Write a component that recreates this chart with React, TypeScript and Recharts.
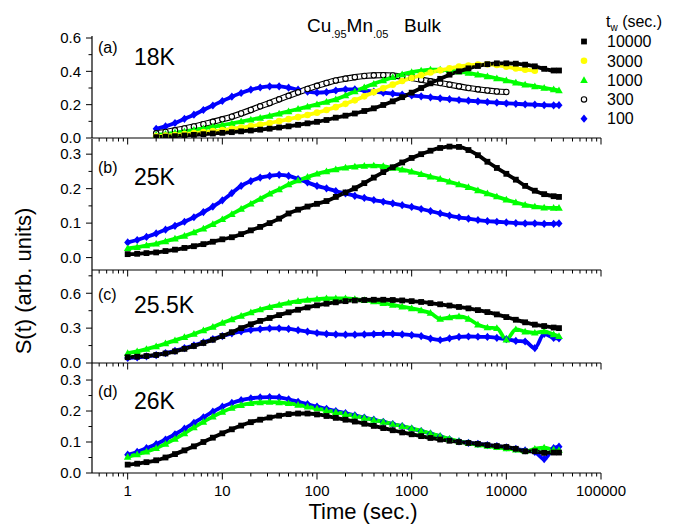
import React from "react";
import { LineChart, Line, XAxis, YAxis } from "recharts";

// time grid (sec.), roughly 0.1 decade apart
const times = [1, 1.26, 1.58, 2, 2.51, 3.16, 3.98, 5.01, 6.31, 7.94, 10, 12.6, 15.8, 20, 25.1, 31.6, 39.8, 50.1, 63.1, 79.4, 100, 126, 158, 200, 251, 316, 398, 501, 631, 794, 1000, 1260, 1580, 2000, 2510, 3160, 3980, 5010, 6310, 7940, 10000, 12600, 15800, 20000, 25100, 31600, 36000];

// (a) 18K
const a10000 = [null, null, null, 0.005, 0.008, 0.011, 0.015, 0.019, 0.023, 0.027, 0.031, 0.035, 0.04, 0.045, 0.05, 0.056, 0.063, 0.07, 0.079, 0.088, 0.097, 0.108, 0.122, 0.134, 0.147, 0.162, 0.178, 0.198, 0.22, 0.245, 0.272, 0.3, 0.328, 0.355, 0.38, 0.4, 0.418, 0.432, 0.443, 0.448, 0.448, 0.446, 0.44, 0.43, 0.415, 0.405, 0.405];
const a3000 = [null, null, null, 0.01, 0.014, 0.018, 0.023, 0.029, 0.035, 0.041, 0.048, 0.055, 0.062, 0.071, 0.08, 0.09, 0.101, 0.113, 0.125, 0.138, 0.152, 0.168, 0.185, 0.205, 0.226, 0.25, 0.275, 0.298, 0.32, 0.342, 0.36, 0.377, 0.393, 0.406, 0.418, 0.428, 0.435, 0.44, 0.442, 0.438, 0.428, 0.417, 0.41, 0.404, null, null, null];
const a1000 = [null, null, null, 0.018, 0.024, 0.032, 0.04, 0.049, 0.058, 0.067, 0.077, 0.088, 0.099, 0.11, 0.121, 0.133, 0.146, 0.16, 0.174, 0.188, 0.202, 0.217, 0.232, 0.255, 0.28, 0.303, 0.325, 0.345, 0.365, 0.382, 0.395, 0.404, 0.41, 0.41, 0.405, 0.398, 0.39, 0.38, 0.37, 0.358, 0.345, 0.332, 0.32, 0.31, 0.3, 0.292, 0.285];
const a300 = [null, null, null, 0.028, 0.036, 0.046, 0.057, 0.069, 0.083, 0.097, 0.112, 0.128, 0.147, 0.168, 0.19, 0.21, 0.232, 0.253, 0.274, 0.294, 0.313, 0.33, 0.345, 0.356, 0.365, 0.372, 0.376, 0.377, 0.375, 0.368, 0.36, 0.35, 0.34, 0.33, 0.32, 0.31, 0.3, 0.292, 0.285, 0.279, 0.276, null, null, null, null, null, null];
const a100 = [null, null, null, 0.055, 0.07, 0.09, 0.115, 0.14, 0.168, 0.195, 0.222, 0.248, 0.27, 0.29, 0.303, 0.31, 0.31, 0.302, 0.29, 0.278, 0.272, 0.275, 0.285, 0.292, 0.292, 0.285, 0.278, 0.272, 0.266, 0.26, 0.255, 0.25, 0.244, 0.238, 0.233, 0.228, 0.224, 0.22, 0.216, 0.212, 0.208, 0.205, 0.202, 0.2, 0.197, 0.196, 0.197];

// (b) 25K
const b10000 = [0.01, 0.011, 0.013, 0.015, 0.019, 0.023, 0.028, 0.033, 0.039, 0.046, 0.053, 0.059, 0.068, 0.079, 0.089, 0.1, 0.113, 0.128, 0.139, 0.148, 0.156, 0.164, 0.176, 0.189, 0.201, 0.216, 0.232, 0.248, 0.262, 0.276, 0.289, 0.3, 0.31, 0.318, 0.322, 0.321, 0.312, 0.297, 0.278, 0.26, 0.243, 0.226, 0.208, 0.194, 0.184, 0.178, 0.176];
const b1000 = [0.027, 0.03, 0.035, 0.04, 0.047, 0.055, 0.063, 0.073, 0.084, 0.097, 0.111, 0.126, 0.141, 0.156, 0.17, 0.185, 0.198, 0.212, 0.224, 0.234, 0.243, 0.25, 0.256, 0.261, 0.264, 0.266, 0.267, 0.265, 0.26, 0.255, 0.249, 0.242, 0.235, 0.228, 0.22, 0.212, 0.204, 0.195, 0.186, 0.177, 0.168, 0.16, 0.153, 0.148, 0.145, 0.144, 0.144];
const b100 = [0.044, 0.051, 0.06, 0.07, 0.081, 0.092, 0.104, 0.117, 0.132, 0.148, 0.166, 0.187, 0.208, 0.222, 0.232, 0.237, 0.24, 0.237, 0.228, 0.218, 0.208, 0.201, 0.193, 0.186, 0.179, 0.173, 0.167, 0.162, 0.157, 0.152, 0.147, 0.141, 0.135, 0.128, 0.122, 0.117, 0.113, 0.109, 0.106, 0.104, 0.102, 0.1, 0.099, 0.099, 0.098, 0.098, 0.099];

// (c) 25.5K
const c10000 = [0.05, 0.054, 0.06, 0.069, 0.082, 0.1, 0.122, 0.146, 0.172, 0.2, 0.232, 0.265, 0.3, 0.333, 0.362, 0.387, 0.412, 0.436, 0.458, 0.478, 0.496, 0.51, 0.522, 0.532, 0.538, 0.542, 0.544, 0.544, 0.542, 0.538, 0.532, 0.525, 0.515, 0.505, 0.494, 0.482, 0.47, 0.455, 0.438, 0.418, 0.395, 0.372, 0.35, 0.33, 0.318, 0.305, 0.3];
const c1000 = [0.085, 0.1, 0.12, 0.143, 0.168, 0.195, 0.222, 0.25, 0.28, 0.31, 0.345, 0.375, 0.405, 0.435, 0.46, 0.48, 0.5, 0.518, 0.532, 0.542, 0.55, 0.555, 0.556, 0.555, 0.55, 0.54, 0.53, 0.515, 0.5, 0.485, 0.47, 0.452, 0.43, 0.38, 0.392, 0.4, 0.38, 0.33, 0.305, 0.3, 0.2, 0.29, 0.27, 0.26, 0.272, 0.245, 0.23];
const c100 = [0.043, 0.048, 0.057, 0.068, 0.085, 0.105, 0.128, 0.152, 0.178, 0.205, 0.232, 0.255, 0.272, 0.284, 0.292, 0.297, 0.298, 0.293, 0.282, 0.27, 0.258, 0.25, 0.246, 0.244, 0.244, 0.246, 0.249, 0.251, 0.25, 0.246, 0.24, 0.232, 0.21, 0.198, 0.212, 0.225, 0.228, 0.226, 0.224, 0.216, 0.205, 0.19, 0.185, 0.128, 0.25, 0.215, 0.212];

// (d) 26K
const d10000 = [0.027, 0.03, 0.035, 0.041, 0.05, 0.061, 0.073, 0.086, 0.1, 0.114, 0.128, 0.141, 0.153, 0.164, 0.172, 0.179, 0.185, 0.19, 0.192, 0.192, 0.189, 0.184, 0.178, 0.172, 0.166, 0.159, 0.152, 0.145, 0.138, 0.131, 0.125, 0.119, 0.113, 0.108, 0.104, 0.1, 0.097, 0.094, 0.09, 0.087, 0.084, 0.078, 0.07, 0.07, 0.065, 0.066, 0.066];
const d1000 = [0.052, 0.06, 0.069, 0.08, 0.094, 0.11, 0.128, 0.147, 0.165, 0.182, 0.197, 0.21, 0.219, 0.225, 0.228, 0.229, 0.228, 0.225, 0.22, 0.214, 0.208, 0.202, 0.196, 0.19, 0.184, 0.178, 0.171, 0.165, 0.158, 0.151, 0.144, 0.136, 0.128, 0.119, 0.11, 0.102, 0.096, 0.091, 0.087, 0.083, 0.079, 0.075, 0.07, 0.078, 0.082, 0.075, 0.074];
const d100 = [0.059, 0.068, 0.08, 0.093, 0.108, 0.125, 0.143, 0.162, 0.18, 0.198, 0.214, 0.226, 0.235, 0.241, 0.244, 0.245, 0.244, 0.238, 0.23, 0.222, 0.214, 0.207, 0.2, 0.193, 0.186, 0.179, 0.172, 0.165, 0.158, 0.151, 0.143, 0.135, 0.127, 0.118, 0.109, 0.102, 0.097, 0.094, 0.09, 0.087, 0.083, 0.078, 0.073, 0.068, 0.045, 0.08, 0.085];

const majorTimes = [1, 10, 100, 1000, 10000, 100000];
const minorTimes = [0.5, 0.6, 0.7, 0.8, 0.9, 2, 3, 4, 5, 6, 7, 8, 9, 20, 30, 40, 50, 60, 70, 80, 90, 200, 300, 400, 500, 600, 700, 800, 900, 2000, 3000, 4000, 5000, 6000, 7000, 8000, 9000, 20000, 30000, 40000, 50000, 60000, 70000, 80000, 90000];
const xTicks = [...minorTimes, ...majorTimes];

const legendLabels = ["10000", "3000", "1000", "300", "100"];
const FONT = "'Liberation Sans', Arial, sans-serif";
const PAD = 12; // room above each plot so the top tick label is not clipped

type Kind = "square" | "dot" | "triangle" | "open" | "diamond";
const kinds: Record<string, { color: string; kind: Kind }> = {
  "10000": { color: "#000000", kind: "square" },
  "3000": { color: "#ffff00", kind: "dot" },
  "1000": { color: "#00ff00", kind: "triangle" },
  "300": { color: "#000000", kind: "open" },
  "100": { color: "#0000ff", kind: "diamond" },
};

function Marker({ cx, cy, kind, color }: { cx: number; cy: number; kind: Kind; color: string }) {
  switch (kind) {
    case "square":
      return <rect x={cx - 2.9} y={cy - 2.9} width={5.8} height={5.8} fill={color} />;
    case "dot":
      return <circle cx={cx} cy={cy} r={3.3} fill={color} />;
    case "triangle":
      return <polygon points={`${cx},${cy - 3.9} ${cx + 3.8},${cy + 2.8} ${cx - 3.8},${cy + 2.8}`} fill={color} />;
    case "open":
      return <circle cx={cx} cy={cy} r={2.7} fill="#fff" stroke="#000" strokeWidth={1.1} />;
    default:
      return <polygon points={`${cx},${cy - 4.1} ${cx + 3.5},${cy} ${cx},${cy + 4.1} ${cx - 3.5},${cy}`} fill={color} />;
  }
}

type Panel = {
  top: number;
  plotH: number;
  domain: [number, number];
  yMajor: number[];
  yMinor: number[];
  series: { label: string; values: (number | null)[] }[];
  tag: string;
  temp: string;
  last?: boolean;
};

const panels: Panel[] = [
  {
    top: 36, plotH: 102, domain: [0, 0.612], yMajor: [0, 0.2, 0.4, 0.6], yMinor: [0.1, 0.3, 0.5],
    series: [
      { label: "100", values: a100 },
      { label: "300", values: a300 },
      { label: "1000", values: a1000 },
      { label: "3000", values: a3000 },
      { label: "10000", values: a10000 },
    ],
    tag: "(a)", temp: "18K",
  },
  {
    top: 139, plotH: 131, domain: [-0.036, 0.344], yMajor: [0, 0.1, 0.2, 0.3], yMinor: [0.05, 0.15, 0.25],
    series: [
      { label: "100", values: b100 },
      { label: "1000", values: b1000 },
      { label: "10000", values: b10000 },
    ],
    tag: "(b)", temp: "25K",
  },
  {
    top: 270, plotH: 93, domain: [0, 0.8], yMajor: [0, 0.3, 0.6], yMinor: [0.15, 0.45, 0.75],
    series: [
      { label: "100", values: c100 },
      { label: "1000", values: c1000 },
      { label: "10000", values: c10000 },
    ],
    tag: "(c)", temp: "25.5K",
  },
  {
    top: 363, plotH: 110, domain: [0, 0.355], yMajor: [0, 0.1, 0.2, 0.3], yMinor: [0.05, 0.15, 0.25],
    series: [
      { label: "100", values: d100 },
      { label: "1000", values: d1000 },
      { label: "10000", values: d10000 },
    ],
    tag: "(d)", temp: "26K", last: true,
  },
];

function XTick(props: any) {
  const { x, y, payload, showLabel } = props;
  const v = payload.value;
  const major = majorTimes.includes(v);
  return (
    <g>
      <line x1={x} x2={x} y1={y} y2={y + (major ? 6.5 : 3.5)} stroke="#000" strokeWidth={1} />
      {showLabel && major && (
        <text x={x} y={y + 23} textAnchor="middle" fontSize={15} fontFamily={FONT} fill="#000">
          {String(v)}
        </text>
      )}
    </g>
  );
}

function YTick(props: any) {
  const { x, y, payload, majors } = props;
  const v = payload.value;
  const major = majors.includes(v);
  return (
    <g>
      <line x1={x} x2={x - (major ? 6 : 3.5)} y1={y} y2={y} stroke="#000" strokeWidth={1} />
      {major && (
        <text x={x - 11} y={y + 5.3} textAnchor="end" fontSize={15} fontFamily={FONT} fill="#000">
          {v.toFixed(1)}
        </text>
      )}
    </g>
  );
}

function PanelChart({ p }: { p: Panel }) {
  const xH = p.last ? 30 : 8;
  const rows = times.map((t, i) => {
    const row: Record<string, number | null> = { t };
    p.series.forEach((s) => (row["s" + s.label] = s.values[i]));
    return row;
  });
  const lines: React.ReactNode[] = [];
  p.series.forEach((s) => {
    const st = kinds[s.label];
    const dot = (d: any) => {
      if (d.cx == null || d.cy == null || d.value == null || isNaN(d.cy)) return <g key={`${s.label}-${d.index}`} />;
      return (
        <g key={`${s.label}-${d.index}`}>
          <Marker cx={d.cx} cy={d.cy} kind={st.kind} color={st.color} />
        </g>
      );
    };
    if (st.kind === "open") {
      lines.push(
        <Line key={s.label + "o"} dataKey={"s" + s.label} type="monotone" stroke="#000" strokeWidth={6.2} dot={false} activeDot={false} isAnimationActive={false} />
      );
      lines.push(
        <Line key={s.label} dataKey={"s" + s.label} type="monotone" stroke="#fff" strokeWidth={4} dot={dot} activeDot={false} isAnimationActive={false} />
      );
    } else {
      lines.push(
        <Line key={s.label} dataKey={"s" + s.label} type="monotone" stroke={st.color} strokeWidth={3.8} dot={dot} activeDot={false} isAnimationActive={false} />
      );
    }
  });
  return (
    <div style={{ position: "absolute", left: 0, top: p.top - PAD }}>
      <LineChart width={684} height={p.plotH + xH + PAD} data={rows} margin={{ top: PAD, right: 83, bottom: 0, left: 0 }}>
        <XAxis
          dataKey="t"
          type="number"
          scale="log"
          domain={[0.42, 100000]}
          allowDataOverflow
          ticks={xTicks}
          interval={0}
          height={xH}
          tickSize={0}
          tickMargin={0}
          tickLine={false}
          axisLine={{ stroke: "#000", strokeWidth: 1.2 }}
          tick={(tp: any) => <XTick {...tp} showLabel={!!p.last} />}
        />
        <YAxis
          type="number"
          domain={p.domain}
          allowDataOverflow
          ticks={[...p.yMinor, ...p.yMajor]}
          interval={0}
          width={92}
          tickSize={0}
          tickMargin={0}
          tickLine={false}
          axisLine={{ stroke: "#000", strokeWidth: 1.2 }}
          tick={(tp: any) => <YTick {...tp} majors={p.yMajor} />}
        />
        {lines}
      </LineChart>
    </div>
  );
}

const tagPos = [
  { tagY: 53, tempY: 65 },
  { tagY: 173, tempY: 185 },
  { tagY: 300, tempY: 313 },
  { tagY: 397, tempY: 409 },
];

export default function App() {
  return (
    <div style={{ position: "absolute", left: 0, top: 0, width: 684, height: 525, background: "#fff", fontFamily: FONT }}>
      {panels.map((p, i) => (
        <PanelChart key={i} p={p} />
      ))}
      <svg width={684} height={525} style={{ position: "absolute", left: 0, top: 0, pointerEvents: "none" }} fontFamily={FONT}>
        <text x={307} y={32} fontSize={19} fill="#000">
          Cu<tspan dy={6} fontSize={11}>.95</tspan>
          <tspan dy={-6}>Mn</tspan>
          <tspan dy={6} fontSize={11}>.05</tspan>
        </text>
        <text x={404} y={32} fontSize={19} fill="#000">Bulk</text>

        {panels.map((p, i) => (
          <g key={i}>
            <text x={98} y={tagPos[i].tagY} fontSize={16} fill="#000">{p.tag}</text>
            <text x={134} y={tagPos[i].tempY} fontSize={23} fill="#000">{p.temp}</text>
          </g>
        ))}

        <text x={606} y={27} fontSize={16} fill="#000">
          t<tspan dy={4} fontSize={10}>w</tspan>
          <tspan dy={-4}> (sec.)</tspan>
        </text>
        {legendLabels.map((lab, i) => {
          const cy = 41.5 + i * 19.3;
          const st = kinds[lab];
          return (
            <g key={lab}>
              <Marker cx={584} cy={cy} kind={st.kind} color={st.color} />
              <text x={607} y={cy + 5.7} fontSize={16} fill="#000">{lab}</text>
            </g>
          );
        })}

        <text x={363} y={519} fontSize={22} textAnchor="middle" fill="#000">Time (sec.)</text>
        <text transform="translate(31,281) rotate(-90)" fontSize={22} textAnchor="middle" fill="#000">S(t) (arb. units)</text>
      </svg>
    </div>
  );
}
